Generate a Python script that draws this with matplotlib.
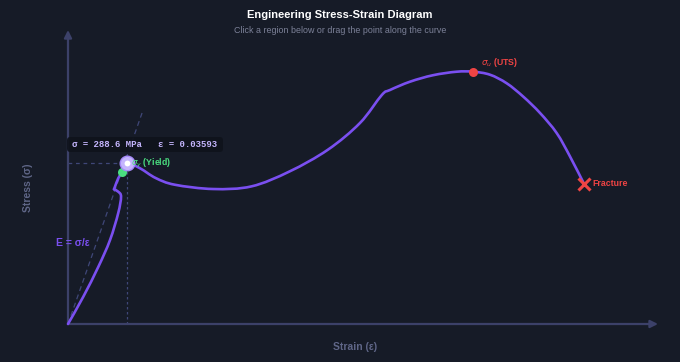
import matplotlib
matplotlib.use("Agg")
import matplotlib.pyplot as plt
from matplotlib.patches import FancyBboxPatch, PathPatch
from matplotlib.path import Path

# ---- data ----
strain = [0.0, 0.0093, 0.0185, 0.0256, 0.0306, 0.0323, 0.0306, 0.0280, 0.0286,
          0.0306, 0.0329, 0.03593, 0.0439, 0.0534, 0.0650, 0.0884, 0.1117,
          0.1350, 0.1583, 0.1778, 0.1911, 0.1961, 0.2083, 0.2223, 0.2367,
          0.2468, 0.2570, 0.2672, 0.2773, 0.2875, 0.2976, 0.3057, 0.3143]
stress = [0.0, 48.9, 102.7, 150.6, 199.0, 228.3, 237.2, 241.5, 246.2,
          261.2, 272.5, 288.6, 279.1, 261.7, 249.7, 242.0, 246.7,
          273.6, 312.5, 360.3, 410.5, 419.5, 434.4, 446.0, 452.3,
          452.3, 446.9, 431.5, 407.5, 378.2, 342.4, 300.5, 251.0]
kink_indices = [7]  # sharp corner in the curve

yield_pt = (0.0329, 272.5)
drag_pt = (0.03593, 288.6)
uts_pt = (0.2468, 452.3)
fracture_pt = (0.3143, 251.0)
modulus_line_end = (0.0451, 378.3)

title = "Engineering Stress-Strain Diagram"
subtitle = "Click a region below or drag the point along the curve"
xlabel = "Strain (ε)"
ylabel = "Stress (σ)"
readout = "σ = 288.6 MPa   ε = 0.03593"

# ---- styling ----
BG = "#161b27"
AXIS = "#3c4169"
CURVE = "#7a4ff0"
GREEN = "#4ade80"
RED = "#ef4444"
LAV = "#c4b5fd"
GRAY = "#5f6687"

PX_X = 1642.0   # pixels per strain unit
PX_Y = 0.5578   # pixels per MPa
OX, OY = 68, 324

fig = plt.figure(figsize=(6.8, 3.62), dpi=100, facecolor=BG)
ax = fig.add_axes([0, 0, 1, 1])
ax.set_facecolor(BG)
ax.set_xlim(-OX / PX_X, (680 - OX) / PX_X)
ax.set_ylim(-(362 - OY) / PX_Y, OY / PX_Y)
ax.axis("off")


def smooth_path(xs, ys):
    """Catmull-Rom style cubic Bezier path through the given points."""
    n = len(xs)
    verts = [(xs[0], ys[0])]
    codes = [Path.MOVETO]
    for i in range(n - 1):
        x0, y0 = (xs[i - 1], ys[i - 1]) if i > 0 else (xs[i], ys[i])
        x1, y1 = xs[i], ys[i]
        x2, y2 = xs[i + 1], ys[i + 1]
        x3, y3 = (xs[i + 2], ys[i + 2]) if i + 2 < n else (x2, y2)
        c1 = (x1 + (x2 - x0) / 6, y1 + (y2 - y0) / 6)
        c2 = (x2 - (x3 - x1) / 6, y2 - (y3 - y1) / 6)
        verts += [c1, c2, (x2, y2)]
        codes += [Path.CURVE4] * 3
    return Path(verts, codes)


xmax = (658 - OX) / PX_X
ymax = (OY - 30) / PX_Y

# axes with arrows
for end in [(xmax, 0), (0, ymax)]:
    ax.annotate("", xy=end, xytext=(0, 0),
                arrowprops=dict(arrowstyle="-|>", color=AXIS, lw=1.6,
                                mutation_scale=11, shrinkA=0, shrinkB=0))

# guide lines
ax.plot([0, modulus_line_end[0]], [0, modulus_line_end[1]], ls=(0, (4, 3)),
        color="#3f4778", lw=0.9, zorder=2)
ax.plot([0, drag_pt[0]], [drag_pt[1], drag_pt[1]], ls=(0, (3, 3)),
        color="#3f4778", lw=0.9, zorder=2)
ax.plot([drag_pt[0], drag_pt[0]], [0, drag_pt[1]], ls=(0, (2, 2)),
        color="#3f4778", lw=0.9, zorder=2)

# curve (smooth pieces meeting at the sharp corner)
bounds = [0] + kink_indices + [len(strain) - 1]
for a, b in zip(bounds[:-1], bounds[1:]):
    p = smooth_path(strain[a:b + 1], stress[a:b + 1])
    ax.add_patch(PathPatch(p, fc="none", ec=CURVE, lw=1.9, capstyle="round",
                           joinstyle="round", zorder=3))

# points
ax.plot(*yield_pt, "o", color=GREEN, ms=6.5, mec="none", zorder=5)
ax.plot(*uts_pt, "o", color=RED, ms=6.5, mec="none", zorder=5)
ax.plot(*fracture_pt, "x", color=RED, ms=8.5, mew=2.2, zorder=5)
ax.plot(*drag_pt, "o", color=LAV, ms=10.5, mec="#a78bfa", mew=1.0, zorder=6)
ax.plot(*drag_pt, "o", color="white", ms=4.2, mec="none", zorder=7)

# labels on the curve
ax.text(drag_pt[0] + 4 / PX_X, drag_pt[1], r"$\sigma_y$ (Yield)", color=GREEN,
        fontsize=6.3, fontweight="bold", family="Liberation Sans",
        va="center", ha="left", zorder=8)
ax.text(uts_pt[0] + 8 / PX_X, uts_pt[1] + 9 / PX_Y, r"$\sigma_u$ (UTS)", color=RED,
        fontsize=6.3, fontweight="bold", family="Liberation Sans",
        va="center", ha="left")
ax.text(fracture_pt[0] + 8 / PX_X, fracture_pt[1], "Fracture", color=RED,
        fontsize=6.3, fontweight="bold", family="Liberation Sans",
        va="center", ha="left")
ax.text((56 - OX) / PX_X, (OY - 243) / PX_Y, "E = σ/ε", color=CURVE,
        fontsize=7.5, fontweight="bold", family="Liberation Sans",
        va="center", ha="left")

# readout box
box = FancyBboxPatch(((67 - OX) / PX_X, (OY - 152) / PX_Y),
                     156 / PX_X, 15 / PX_Y,
                     boxstyle="round,pad=0,rounding_size=0.002",
                     fc="#0f131c", ec="none", alpha=0.95, zorder=8,
                     mutation_aspect=PX_X / PX_Y)
ax.add_patch(box)
ax.text((72 - OX) / PX_X, (OY - 144.5) / PX_Y, readout, color=LAV,
        fontsize=6.5, fontweight="bold", family="Liberation Mono",
        va="center", ha="left", zorder=9)

# titles and axis labels
fig.text(0.5, 1 - 15 / 362, title, color="white", fontsize=8, fontweight="bold",
         family="Liberation Sans", ha="center", va="center")
fig.text(0.5, 1 - 30.5 / 362, subtitle, color="#7d8299", fontsize=6.4,
         family="Liberation Sans", ha="center", va="center")
fig.text(355 / 680, 1 - 347.5 / 362, xlabel, color=GRAY, fontsize=7.5,
         fontweight="bold", family="Liberation Sans", ha="center", va="center")
fig.text(28 / 680, 1 - 188 / 362, ylabel, color=GRAY, fontsize=7.5,
         fontweight="bold", family="Liberation Sans", ha="center", va="center",
         rotation=90)

fig.savefig("out.png", dpi=100, facecolor=BG)
